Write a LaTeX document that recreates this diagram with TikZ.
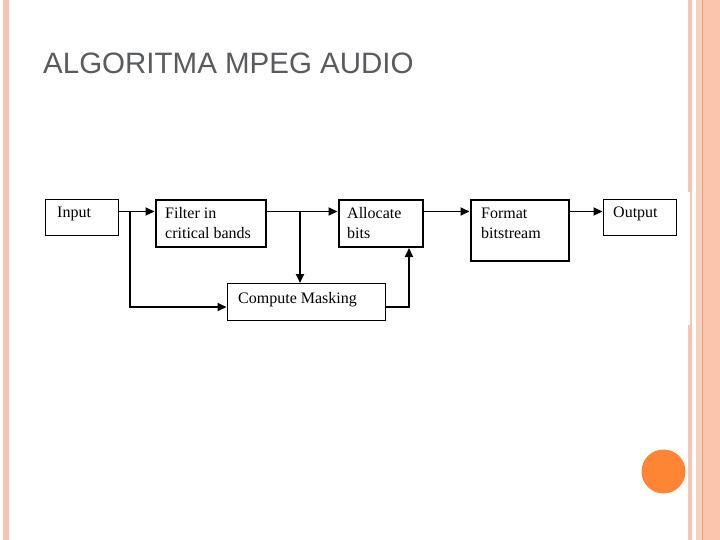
\documentclass[tikz,border=0pt]{standalone}
\usepackage{fontspec}
\setmainfont{Liberation Serif}
\newfontfamily\titlefont{Liberation Sans}
\usetikzlibrary{arrows.meta}
\definecolor{stripe}{HTML}{F7C5B1}
\definecolor{stripeb}{HTML}{FBC4AD}
\definecolor{stripeline}{HTML}{E89A70}
\definecolor{dot}{HTML}{FD8534}
\definecolor{titlegray}{HTML}{595B5E}
\begin{document}
\begin{tikzpicture}[x=1pt,y=-1pt,
  boxthin/.style={draw=black,line width=1.3pt,rectangle,inner sep=0pt,anchor=north west},
  boxthick/.style={draw=black,line width=2pt,rectangle,inner sep=0pt,anchor=north west},
  lbl/.style={font=\fontsize{16}{20}\selectfont,anchor=base west,inner sep=0pt,align=left},
  conn/.style={line width=1.9pt,-{Triangle[length=9pt,width=8pt]}},
  plain/.style={line width=1.9pt}]
\useasboundingbox (0,0) rectangle (720,540);
\fill[white] (0,0) rectangle (720,540);
% decorative stripes
\fill[stripe] (3,0) rectangle (9,540);
\fill[stripe] (687.5,0) rectangle (692,540);
\fill[stripeb] (696,0) rectangle (720,540);
\fill[stripe!80!white] (696,0) rectangle (701.5,540);
\fill[stripeline] (701.5,0) rectangle (703,540);
\fill[white] (687.5,192) rectangle (690,325);
% orange dot
\fill[dot] (663.5,471.5) circle (22);
% title
\node[anchor=base west,inner sep=0pt,text=titlegray,font=\titlefont\fontsize{29.5}{34}\selectfont] (title) at (43,74) {ALGORITMA MPEG AUDIO};
% boxes
\node[boxthin,minimum width=73pt,minimum height=36pt] (input) at (45,199) {};
\node[boxthick,minimum width=110pt,minimum height=47pt] (filter) at (154.5,199) {};
\node[boxthick,minimum width=84pt,minimum height=47pt] (alloc) at (337.5,199) {};
\node[boxthick,minimum width=98pt,minimum height=61pt] (format) at (469.5,199) {};
\node[boxthin,minimum width=73pt,minimum height=36pt] (output) at (602.5,199) {};
\node[boxthin,minimum width=158pt,minimum height=36.5pt] (mask) at (226.5,283) {};
% labels (base = baseline of the last line)
\node[lbl] (tinput) at (57,218) {Input};
\node[lbl] (tfilter) at (165,238) {Filter in\\critical bands};
\node[lbl] (talloc) at (347,238) {Allocate\\bits};
\node[lbl] (tformat) at (481,238) {Format\\bitstream};
\node[lbl] (toutput) at (613,218) {Output};
\node[lbl] (tmask) at (238,303) {Compute Masking};
% junction coordinates
\coordinate (j1) at (130,211.5);
\coordinate (j2) at (300,211.5);
\coordinate (j3) at (409,307);
\coordinate (j4) at (130,307);
% connectors
\draw[conn] (input.east |- j1) -- (filter.west |- j1);
\draw[conn] (filter.east |- j1) -- (alloc.west |- j1);
\draw[conn] (alloc.east |- j1) -- (format.west |- j1);
\draw[conn] (format.east |- j1) -- (output.west |- j1);
\draw[conn] (j1) -- (j4) -- (mask.west |- j4);
\draw[conn] (j2) -- (mask.north -| j2);
\draw[conn] (mask.east |- j3) -- (j3) -- (alloc.south -| j3);
\end{tikzpicture}
\end{document}
